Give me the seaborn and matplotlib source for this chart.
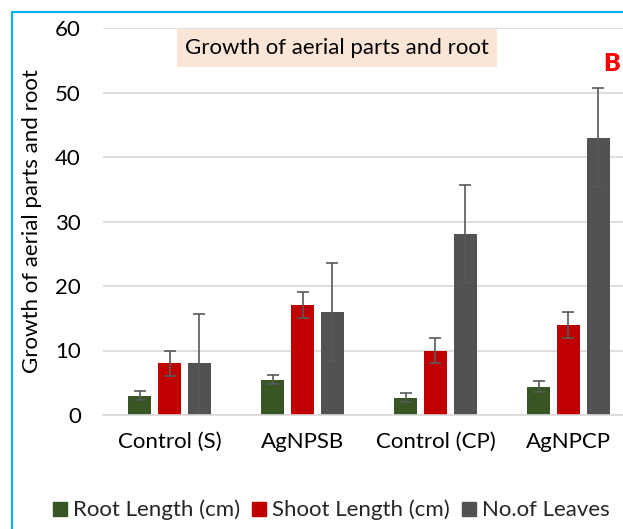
import matplotlib
matplotlib.use("Agg")
import matplotlib.pyplot as plt
import seaborn as sns
import pandas as pd
import numpy as np
from matplotlib.lines import Line2D
from matplotlib.patches import Rectangle

categories = ["Control (S)", "AgNPSB", "Control (CP)", "AgNPCP"]
series = ["Root Length (cm)", "Shoot Length (cm)", "No.of Leaves"]
root_length = [3.0, 5.5, 2.7, 4.4]
shoot_length = [8.0, 17.0, 10.0, 14.0]
leaves = [8.0, 16.0, 28.0, 43.0]
root_err = [0.7, 0.7, 0.7, 0.8]
shoot_err = [2.0, 2.0, 2.0, 2.0]
leaves_err = [7.6, 7.6, 7.6, 7.7]
colors = ["#375623", "#C00000", "#525252"]
yticks = [0, 10, 20, 30, 40, 50, 60]

rows = []
for s, vals, errs in zip(series, [root_length, shoot_length, leaves],
                         [root_err, shoot_err, leaves_err]):
    for c, v, e in zip(categories, vals, errs):
        rows.append({"cat": c, "series": s, "value": v, "err": e})
df = pd.DataFrame(rows)

sns.set_theme(style="white")
plt.rcParams["font.family"] = ["Lato", "DejaVu Sans"]

FS = 16
W, H = 623, 529
fig = plt.figure(figsize=(W / 100, H / 100), dpi=100)
left, right, top, bottom = 103, 635, 28, 415
ax = fig.add_axes([left / W, (H - bottom) / H, (right - left) / W, (bottom - top) / H])

sns.barplot(data=df, x="cat", y="value", hue="series", order=categories,
            hue_order=series, palette=colors, width=0.675, gap=0.23,
            errorbar=None, saturation=1, linewidth=0, ax=ax, legend=False)

# error bars at each bar's centre, taken from the drawn patches
for i, s in enumerate(series):
    sub = df[df["series"] == s].set_index("cat").loc[categories]
    patches = ax.patches[i * len(categories):(i + 1) * len(categories)]
    xs = [p.get_x() + p.get_width() / 2 for p in patches]
    ax.errorbar(xs, sub["value"].values, yerr=sub["err"].values, fmt="none",
                ecolor="#595959", elinewidth=1.2, capsize=4.6, capthick=1.2,
                zorder=5)

ax.set_xlim(-0.5, 3.5)
ax.set_ylim(0, 60)
ax.set_yticks(yticks)
ax.yaxis.grid(True, color="#D9D9D9", linewidth=1.2)
ax.set_axisbelow(True)
for sp in ["top", "right", "left"]:
    ax.spines[sp].set_visible(False)
ax.spines["bottom"].set_color("#D9D9D9")
ax.spines["bottom"].set_linewidth(1.2)
ax.tick_params(axis="both", length=0, labelsize=FS, colors="#000000")
ax.tick_params(axis="y", pad=16)
ax.tick_params(axis="x", pad=12)
ax.set_xlabel("")
ax.set_ylabel("Growth of aerial parts and root", fontsize=FS, color="#000000",
              labelpad=9)

# title box
fig.patches.append(Rectangle((177 / W, 1 - 67 / H), 320 / W, 38 / H,
                             transform=fig.transFigure, facecolor="#FBE5D6",
                             edgecolor="none", zorder=3))
fig.text(337 / W, 1 - 48 / H, "Growth of aerial parts and root", ha="center",
         va="center", fontsize=FS, color="#000000", zorder=4)

fig.text(612 / W, 1 - 64 / H, "B", ha="center", va="center", fontsize=18,
         fontweight="heavy", color="#FF0000")

# legend
handles = [Line2D([], [], marker="s", linestyle="none", markersize=10,
                  markerfacecolor=c, markeredgecolor=c) for c in colors]
fig.legend(handles, series, loc="center", bbox_to_anchor=(331 / W, 1 - 510 / H),
           ncol=3, frameon=False, fontsize=FS, handlelength=0.7,
           handletextpad=0.25, columnspacing=0.5)

# blue frame (left and top edges)
fig.add_artist(Line2D([12 / W, 12 / W], [0, 1 - 12 / H], color="#00B0F0",
                      linewidth=1.6, transform=fig.transFigure))
fig.add_artist(Line2D([12 / W, 1], [1 - 12 / H, 1 - 12 / H], color="#00B0F0",
                      linewidth=1.6, transform=fig.transFigure))

fig.savefig("out.png", dpi=100)
